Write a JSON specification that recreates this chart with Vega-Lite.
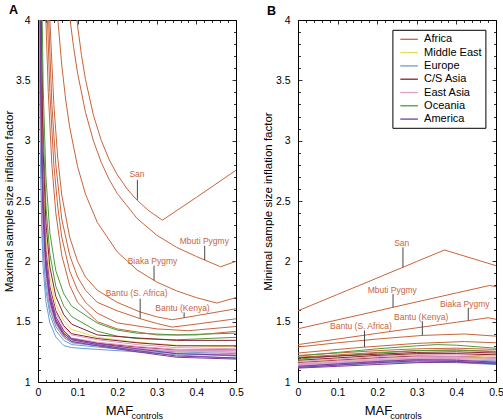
{
"$schema":"https://vega.github.io/schema/vega-lite/v6.json",
"padding":{"left":2,"top":3,"right":0,"bottom":0},
"config":{"view":{"stroke":"black","strokeWidth":1},"font":"Liberation Sans","axis":{"grid":false,"domain":false,"labelFont":"Liberation Sans","labelFontSize":10.5,"labelColor":"black","tickColor":"black","tickWidth":0.8,"titleFont":"Liberation Sans","titleFontWeight":"normal","titleColor":"black","labelFlush":false,"labelOverlap":false},"concat":{"spacing":17}},
"datasets":{
"a":[
{"p":"San","r":"Africa","x":0.09,"y":4.276},{"p":"San","r":"Africa","x":0.1,"y":3.95},{"p":"San","r":"Africa","x":0.11,"y":3.705},{"p":"San","r":"Africa","x":0.12,"y":3.506},{"p":"San","r":"Africa","x":0.14,"y":3.21},{"p":"San","r":"Africa","x":0.16,"y":3.0},{"p":"San","r":"Africa","x":0.18,"y":2.841},{"p":"San","r":"Africa","x":0.2,"y":2.719},{"p":"San","r":"Africa","x":0.225,"y":2.6},{"p":"San","r":"Africa","x":0.25,"y":2.507},{"p":"San","r":"Africa","x":0.28,"y":2.419},{"p":"San","r":"Africa","x":0.314,"y":2.341},{"p":"San","r":"Africa","x":0.4,"y":2.53},{"p":"San","r":"Africa","x":0.5,"y":2.755},
{"p":"Mbuti","r":"Africa","x":0.075,"y":4.189},{"p":"Mbuti","r":"Africa","x":0.082,"y":3.977},{"p":"Mbuti","r":"Africa","x":0.09,"y":3.772},{"p":"Mbuti","r":"Africa","x":0.1,"y":3.559},{"p":"Mbuti","r":"Africa","x":0.12,"y":3.234},{"p":"Mbuti","r":"Africa","x":0.14,"y":2.998},{"p":"Mbuti","r":"Africa","x":0.16,"y":2.818},{"p":"Mbuti","r":"Africa","x":0.18,"y":2.677},{"p":"Mbuti","r":"Africa","x":0.2,"y":2.563},{"p":"Mbuti","r":"Africa","x":0.25,"y":2.356},{"p":"Mbuti","r":"Africa","x":0.3,"y":2.216},{"p":"Mbuti","r":"Africa","x":0.35,"y":2.116},{"p":"Mbuti","r":"Africa","x":0.4,"y":2.04},{"p":"Mbuti","r":"Africa","x":0.461,"y":1.955},{"p":"Mbuti","r":"Africa","x":0.5,"y":2.0},
{"p":"Biaka","r":"Africa","x":0.045,"y":4.256},{"p":"Biaka","r":"Africa","x":0.05,"y":4.01},{"p":"Biaka","r":"Africa","x":0.06,"y":3.626},{"p":"Biaka","r":"Africa","x":0.07,"y":3.337},{"p":"Biaka","r":"Africa","x":0.08,"y":3.112},{"p":"Biaka","r":"Africa","x":0.1,"y":2.784},{"p":"Biaka","r":"Africa","x":0.12,"y":2.556},{"p":"Biaka","r":"Africa","x":0.15,"y":2.321},{"p":"Biaka","r":"Africa","x":0.2,"y":2.079},{"p":"Biaka","r":"Africa","x":0.25,"y":1.929},{"p":"Biaka","r":"Africa","x":0.3,"y":1.828},{"p":"Biaka","r":"Africa","x":0.35,"y":1.755},{"p":"Biaka","r":"Africa","x":0.4,"y":1.699},{"p":"Biaka","r":"Africa","x":0.452,"y":1.654},{"p":"Biaka","r":"Africa","x":0.5,"y":1.7},
{"p":"BantuK","r":"Africa","x":0.025,"y":4.5},{"p":"BantuK","r":"Africa","x":0.03,"y":4.0},{"p":"BantuK","r":"Africa","x":0.04,"y":3.3},{"p":"BantuK","r":"Africa","x":0.05,"y":2.85},{"p":"BantuK","r":"Africa","x":0.06,"y":2.55},{"p":"BantuK","r":"Africa","x":0.08,"y":2.2},{"p":"BantuK","r":"Africa","x":0.1,"y":2.0},{"p":"BantuK","r":"Africa","x":0.12,"y":1.87},{"p":"BantuK","r":"Africa","x":0.15,"y":1.76},{"p":"BantuK","r":"Africa","x":0.2,"y":1.66},{"p":"BantuK","r":"Africa","x":0.258,"y":1.58},{"p":"BantuK","r":"Africa","x":0.3,"y":1.54},{"p":"BantuK","r":"Africa","x":0.339,"y":1.516},{"p":"BantuK","r":"Africa","x":0.4,"y":1.55},{"p":"BantuK","r":"Africa","x":0.5,"y":1.607},
{"p":"BantuS","r":"Africa","x":0.022,"y":4.5},{"p":"BantuS","r":"Africa","x":0.027,"y":4.0},{"p":"BantuS","r":"Africa","x":0.035,"y":3.3},{"p":"BantuS","r":"Africa","x":0.045,"y":2.8},{"p":"BantuS","r":"Africa","x":0.06,"y":2.35},{"p":"BantuS","r":"Africa","x":0.08,"y":2.05},{"p":"BantuS","r":"Africa","x":0.1,"y":1.87},{"p":"BantuS","r":"Africa","x":0.12,"y":1.76},{"p":"BantuS","r":"Africa","x":0.15,"y":1.66},{"p":"BantuS","r":"Africa","x":0.2,"y":1.59},{"p":"BantuS","r":"Africa","x":0.258,"y":1.525},{"p":"BantuS","r":"Africa","x":0.3,"y":1.485},{"p":"BantuS","r":"Africa","x":0.339,"y":1.455},{"p":"BantuS","r":"Africa","x":0.4,"y":1.48},{"p":"BantuS","r":"Africa","x":0.5,"y":1.524},
{"p":"Yoruba","r":"Africa","x":0.02,"y":4.5},{"p":"Yoruba","r":"Africa","x":0.024,"y":4.0},{"p":"Yoruba","r":"Africa","x":0.03,"y":3.4},{"p":"Yoruba","r":"Africa","x":0.04,"y":2.8},{"p":"Yoruba","r":"Africa","x":0.05,"y":2.45},{"p":"Yoruba","r":"Africa","x":0.06,"y":2.2},{"p":"Yoruba","r":"Africa","x":0.08,"y":1.92},{"p":"Yoruba","r":"Africa","x":0.1,"y":1.76},{"p":"Yoruba","r":"Africa","x":0.12,"y":1.66},{"p":"Yoruba","r":"Africa","x":0.15,"y":1.57},{"p":"Yoruba","r":"Africa","x":0.2,"y":1.49},{"p":"Yoruba","r":"Africa","x":0.3,"y":1.44},{"p":"Yoruba","r":"Africa","x":0.38,"y":1.425},{"p":"Yoruba","r":"Africa","x":0.5,"y":1.46},
{"p":"Mandenka","r":"Africa","x":0.016,"y":4.5},{"p":"Mandenka","r":"Africa","x":0.02,"y":4.0},{"p":"Mandenka","r":"Africa","x":0.026,"y":3.4},{"p":"Mandenka","r":"Africa","x":0.035,"y":2.8},{"p":"Mandenka","r":"Africa","x":0.045,"y":2.4},{"p":"Mandenka","r":"Africa","x":0.06,"y":2.05},{"p":"Mandenka","r":"Africa","x":0.08,"y":1.8},{"p":"Mandenka","r":"Africa","x":0.1,"y":1.66},{"p":"Mandenka","r":"Africa","x":0.15,"y":1.5},{"p":"Mandenka","r":"Africa","x":0.2,"y":1.44},{"p":"Mandenka","r":"Africa","x":0.3,"y":1.39},{"p":"Mandenka","r":"Africa","x":0.4,"y":1.39},{"p":"Mandenka","r":"Africa","x":0.5,"y":1.42},
{"p":"G1","r":"Oceania","x":0.004,"y":8.3},{"p":"G1","r":"Oceania","x":0.006,"y":5.967},{"p":"G1","r":"Oceania","x":0.009,"y":4.411},{"p":"G1","r":"Oceania","x":0.013,"y":3.454},{"p":"G1","r":"Oceania","x":0.02,"y":2.7},{"p":"G1","r":"Oceania","x":0.03,"y":2.233},{"p":"G1","r":"Oceania","x":0.045,"y":1.922},{"p":"G1","r":"Oceania","x":0.065,"y":1.731},{"p":"G1","r":"Oceania","x":0.085,"y":1.629},{"p":"G1","r":"Oceania","x":0.15,"y":1.487},{"p":"G1","r":"Oceania","x":0.2,"y":1.43},{"p":"G1","r":"Oceania","x":0.25,"y":1.405},{"p":"G1","r":"Oceania","x":0.35,"y":1.39},{"p":"G1","r":"Oceania","x":0.5,"y":1.405},
{"p":"G2","r":"Oceania","x":0.004,"y":7.26},{"p":"G2","r":"Oceania","x":0.006,"y":5.26},{"p":"G2","r":"Oceania","x":0.009,"y":3.927},{"p":"G2","r":"Oceania","x":0.013,"y":3.106},{"p":"G2","r":"Oceania","x":0.02,"y":2.46},{"p":"G2","r":"Oceania","x":0.03,"y":2.06},{"p":"G2","r":"Oceania","x":0.045,"y":1.793},{"p":"G2","r":"Oceania","x":0.065,"y":1.629},{"p":"G2","r":"Oceania","x":0.085,"y":1.542},{"p":"G2","r":"Oceania","x":0.15,"y":1.42},{"p":"G2","r":"Oceania","x":0.2,"y":1.38},{"p":"G2","r":"Oceania","x":0.25,"y":1.36},{"p":"G2","r":"Oceania","x":0.35,"y":1.35},{"p":"G2","r":"Oceania","x":0.5,"y":1.37},
{"p":"M1","r":"Middle East","x":0.004,"y":6.2},{"p":"M1","r":"Middle East","x":0.006,"y":4.533},{"p":"M1","r":"Middle East","x":0.009,"y":3.422},{"p":"M1","r":"Middle East","x":0.013,"y":2.738},{"p":"M1","r":"Middle East","x":0.02,"y":2.2},{"p":"M1","r":"Middle East","x":0.03,"y":1.867},{"p":"M1","r":"Middle East","x":0.045,"y":1.644},{"p":"M1","r":"Middle East","x":0.065,"y":1.508},{"p":"M1","r":"Middle East","x":0.085,"y":1.435},{"p":"M1","r":"Middle East","x":0.15,"y":1.37},{"p":"M1","r":"Middle East","x":0.25,"y":1.33},{"p":"M1","r":"Middle East","x":0.35,"y":1.305},{"p":"M1","r":"Middle East","x":0.5,"y":1.29},
{"p":"M2","r":"Middle East","x":0.004,"y":5.17},{"p":"M2","r":"Middle East","x":0.006,"y":3.837},{"p":"M2","r":"Middle East","x":0.009,"y":2.948},{"p":"M2","r":"Middle East","x":0.013,"y":2.401},{"p":"M2","r":"Middle East","x":0.02,"y":1.97},{"p":"M2","r":"Middle East","x":0.03,"y":1.703},{"p":"M2","r":"Middle East","x":0.045,"y":1.526},{"p":"M2","r":"Middle East","x":0.065,"y":1.416},{"p":"M2","r":"Middle East","x":0.085,"y":1.36},{"p":"M2","r":"Middle East","x":0.15,"y":1.325},{"p":"M2","r":"Middle East","x":0.25,"y":1.29},{"p":"M2","r":"Middle East","x":0.35,"y":1.27},{"p":"M2","r":"Middle East","x":0.5,"y":1.265},
{"p":"M3","r":"Middle East","x":0.004,"y":4.535},{"p":"M3","r":"Middle East","x":0.006,"y":3.41},{"p":"M3","r":"Middle East","x":0.009,"y":2.66},{"p":"M3","r":"Middle East","x":0.013,"y":2.198},{"p":"M3","r":"Middle East","x":0.02,"y":1.835},{"p":"M3","r":"Middle East","x":0.03,"y":1.61},{"p":"M3","r":"Middle East","x":0.045,"y":1.46},{"p":"M3","r":"Middle East","x":0.065,"y":1.368},{"p":"M3","r":"Middle East","x":0.085,"y":1.33},{"p":"M3","r":"Middle East","x":0.15,"y":1.3},{"p":"M3","r":"Middle East","x":0.25,"y":1.265},{"p":"M3","r":"Middle East","x":0.35,"y":1.24},{"p":"M3","r":"Middle East","x":0.5,"y":1.23},
{"p":"C3","r":"C/S Asia","x":0.004,"y":6.72},{"p":"C3","r":"C/S Asia","x":0.006,"y":4.887},{"p":"C3","r":"C/S Asia","x":0.009,"y":3.664},{"p":"C3","r":"C/S Asia","x":0.013,"y":2.912},{"p":"C3","r":"C/S Asia","x":0.02,"y":2.32},{"p":"C3","r":"C/S Asia","x":0.03,"y":1.953},{"p":"C3","r":"C/S Asia","x":0.045,"y":1.709},{"p":"C3","r":"C/S Asia","x":0.065,"y":1.558},{"p":"C3","r":"C/S Asia","x":0.085,"y":1.479},{"p":"C3","r":"C/S Asia","x":0.15,"y":1.39},{"p":"C3","r":"C/S Asia","x":0.25,"y":1.365},{"p":"C3","r":"C/S Asia","x":0.35,"y":1.345},{"p":"C3","r":"C/S Asia","x":0.5,"y":1.345},
{"p":"C2","r":"C/S Asia","x":0.004,"y":5.69},{"p":"C2","r":"C/S Asia","x":0.006,"y":4.19},{"p":"C2","r":"C/S Asia","x":0.009,"y":3.19},{"p":"C2","r":"C/S Asia","x":0.013,"y":2.575},{"p":"C2","r":"C/S Asia","x":0.02,"y":2.09},{"p":"C2","r":"C/S Asia","x":0.03,"y":1.79},{"p":"C2","r":"C/S Asia","x":0.045,"y":1.59},{"p":"C2","r":"C/S Asia","x":0.065,"y":1.467},{"p":"C2","r":"C/S Asia","x":0.085,"y":1.4},{"p":"C2","r":"C/S Asia","x":0.15,"y":1.36},{"p":"C2","r":"C/S Asia","x":0.25,"y":1.325},{"p":"C2","r":"C/S Asia","x":0.35,"y":1.3},{"p":"C2","r":"C/S Asia","x":0.5,"y":1.3},
{"p":"C1","r":"C/S Asia","x":0.004,"y":4.92},{"p":"C1","r":"C/S Asia","x":0.006,"y":3.67},{"p":"C1","r":"C/S Asia","x":0.009,"y":2.837},{"p":"C1","r":"C/S Asia","x":0.013,"y":2.324},{"p":"C1","r":"C/S Asia","x":0.02,"y":1.92},{"p":"C1","r":"C/S Asia","x":0.03,"y":1.67},{"p":"C1","r":"C/S Asia","x":0.045,"y":1.503},{"p":"C1","r":"C/S Asia","x":0.065,"y":1.401},{"p":"C1","r":"C/S Asia","x":0.085,"y":1.355},{"p":"C1","r":"C/S Asia","x":0.15,"y":1.32},{"p":"C1","r":"C/S Asia","x":0.25,"y":1.29},{"p":"C1","r":"C/S Asia","x":0.35,"y":1.265},{"p":"C1","r":"C/S Asia","x":0.5,"y":1.265},
{"p":"E3","r":"Europe","x":0.004,"y":4.42},{"p":"E3","r":"Europe","x":0.006,"y":3.337},{"p":"E3","r":"Europe","x":0.009,"y":2.614},{"p":"E3","r":"Europe","x":0.013,"y":2.17},{"p":"E3","r":"Europe","x":0.02,"y":1.82},{"p":"E3","r":"Europe","x":0.03,"y":1.603},{"p":"E3","r":"Europe","x":0.045,"y":1.459},{"p":"E3","r":"Europe","x":0.065,"y":1.37},{"p":"E3","r":"Europe","x":0.085,"y":1.325},{"p":"E3","r":"Europe","x":0.15,"y":1.3},{"p":"E3","r":"Europe","x":0.25,"y":1.27},{"p":"E3","r":"Europe","x":0.35,"y":1.25},{"p":"E3","r":"Europe","x":0.5,"y":1.235},
{"p":"E2","r":"Europe","x":0.004,"y":4.16},{"p":"E2","r":"Europe","x":0.006,"y":3.16},{"p":"E2","r":"Europe","x":0.009,"y":2.493},{"p":"E2","r":"Europe","x":0.013,"y":2.083},{"p":"E2","r":"Europe","x":0.02,"y":1.76},{"p":"E2","r":"Europe","x":0.03,"y":1.56},{"p":"E2","r":"Europe","x":0.045,"y":1.427},{"p":"E2","r":"Europe","x":0.065,"y":1.345},{"p":"E2","r":"Europe","x":0.085,"y":1.31},{"p":"E2","r":"Europe","x":0.15,"y":1.29},{"p":"E2","r":"Europe","x":0.25,"y":1.26},{"p":"E2","r":"Europe","x":0.35,"y":1.235},{"p":"E2","r":"Europe","x":0.5,"y":1.215},
{"p":"E1","r":"Europe","x":0.004,"y":3.765},{"p":"E1","r":"Europe","x":0.006,"y":2.89},{"p":"E1","r":"Europe","x":0.009,"y":2.307},{"p":"E1","r":"Europe","x":0.013,"y":1.948},{"p":"E1","r":"Europe","x":0.02,"y":1.665},{"p":"E1","r":"Europe","x":0.03,"y":1.49},{"p":"E1","r":"Europe","x":0.045,"y":1.373},{"p":"E1","r":"Europe","x":0.065,"y":1.302},{"p":"E1","r":"Europe","x":0.085,"y":1.285},{"p":"E1","r":"Europe","x":0.15,"y":1.27},{"p":"E1","r":"Europe","x":0.25,"y":1.25},{"p":"E1","r":"Europe","x":0.35,"y":1.225},{"p":"E1","r":"Europe","x":0.5,"y":1.195},
{"p":"K5","r":"East Asia","x":0.004,"y":5.44},{"p":"K5","r":"East Asia","x":0.006,"y":4.023},{"p":"K5","r":"East Asia","x":0.009,"y":3.079},{"p":"K5","r":"East Asia","x":0.013,"y":2.498},{"p":"K5","r":"East Asia","x":0.02,"y":2.04},{"p":"K5","r":"East Asia","x":0.03,"y":1.757},{"p":"K5","r":"East Asia","x":0.045,"y":1.568},{"p":"K5","r":"East Asia","x":0.065,"y":1.452},{"p":"K5","r":"East Asia","x":0.085,"y":1.39},{"p":"K5","r":"East Asia","x":0.15,"y":1.35},{"p":"K5","r":"East Asia","x":0.25,"y":1.31},{"p":"K5","r":"East Asia","x":0.35,"y":1.285},{"p":"K5","r":"East Asia","x":0.5,"y":1.275},
{"p":"K3","r":"East Asia","x":0.004,"y":5.18},{"p":"K3","r":"East Asia","x":0.006,"y":3.847},{"p":"K3","r":"East Asia","x":0.009,"y":2.958},{"p":"K3","r":"East Asia","x":0.013,"y":2.411},{"p":"K3","r":"East Asia","x":0.02,"y":1.98},{"p":"K3","r":"East Asia","x":0.03,"y":1.713},{"p":"K3","r":"East Asia","x":0.045,"y":1.536},{"p":"K3","r":"East Asia","x":0.065,"y":1.426},{"p":"K3","r":"East Asia","x":0.085,"y":1.365},{"p":"K3","r":"East Asia","x":0.15,"y":1.33},{"p":"K3","r":"East Asia","x":0.25,"y":1.295},{"p":"K3","r":"East Asia","x":0.35,"y":1.27},{"p":"K3","r":"East Asia","x":0.5,"y":1.26},
{"p":"K2","r":"East Asia","x":0.004,"y":5.045},{"p":"K2","r":"East Asia","x":0.006,"y":3.753},{"p":"K2","r":"East Asia","x":0.009,"y":2.892},{"p":"K2","r":"East Asia","x":0.013,"y":2.362},{"p":"K2","r":"East Asia","x":0.02,"y":1.945},{"p":"K2","r":"East Asia","x":0.03,"y":1.687},{"p":"K2","r":"East Asia","x":0.045,"y":1.514},{"p":"K2","r":"East Asia","x":0.065,"y":1.409},{"p":"K2","r":"East Asia","x":0.085,"y":1.35},{"p":"K2","r":"East Asia","x":0.15,"y":1.315},{"p":"K2","r":"East Asia","x":0.25,"y":1.28},{"p":"K2","r":"East Asia","x":0.35,"y":1.255},{"p":"K2","r":"East Asia","x":0.5,"y":1.245},
{"p":"K4","r":"East Asia","x":0.004,"y":4.67},{"p":"K4","r":"East Asia","x":0.006,"y":3.503},{"p":"K4","r":"East Asia","x":0.009,"y":2.726},{"p":"K4","r":"East Asia","x":0.013,"y":2.247},{"p":"K4","r":"East Asia","x":0.02,"y":1.87},{"p":"K4","r":"East Asia","x":0.03,"y":1.637},{"p":"K4","r":"East Asia","x":0.045,"y":1.481},{"p":"K4","r":"East Asia","x":0.065,"y":1.385},{"p":"K4","r":"East Asia","x":0.085,"y":1.34},{"p":"K4","r":"East Asia","x":0.15,"y":1.31},{"p":"K4","r":"East Asia","x":0.25,"y":1.28},{"p":"K4","r":"East Asia","x":0.35,"y":1.26},{"p":"K4","r":"East Asia","x":0.5,"y":1.25},
{"p":"K1","r":"East Asia","x":0.004,"y":4.785},{"p":"K1","r":"East Asia","x":0.006,"y":3.577},{"p":"K1","r":"East Asia","x":0.009,"y":2.771},{"p":"K1","r":"East Asia","x":0.013,"y":2.275},{"p":"K1","r":"East Asia","x":0.02,"y":1.885},{"p":"K1","r":"East Asia","x":0.03,"y":1.643},{"p":"K1","r":"East Asia","x":0.045,"y":1.482},{"p":"K1","r":"East Asia","x":0.065,"y":1.383},{"p":"K1","r":"East Asia","x":0.085,"y":1.34},{"p":"K1","r":"East Asia","x":0.15,"y":1.305},{"p":"K1","r":"East Asia","x":0.25,"y":1.27},{"p":"K1","r":"East Asia","x":0.35,"y":1.24},{"p":"K1","r":"East Asia","x":0.5,"y":1.225},
{"p":"P3","r":"America","x":0.004,"y":5.46},{"p":"P3","r":"America","x":0.006,"y":4.027},{"p":"P3","r":"America","x":0.009,"y":3.071},{"p":"P3","r":"America","x":0.013,"y":2.483},{"p":"P3","r":"America","x":0.02,"y":2.02},{"p":"P3","r":"America","x":0.03,"y":1.733},{"p":"P3","r":"America","x":0.045,"y":1.542},{"p":"P3","r":"America","x":0.065,"y":1.425},{"p":"P3","r":"America","x":0.085,"y":1.36},{"p":"P3","r":"America","x":0.15,"y":1.32},{"p":"P3","r":"America","x":0.25,"y":1.275},{"p":"P3","r":"America","x":0.35,"y":1.235},{"p":"P3","r":"America","x":0.5,"y":1.22},
{"p":"P2","r":"America","x":0.004,"y":5.275},{"p":"P2","r":"America","x":0.006,"y":3.9},{"p":"P2","r":"America","x":0.009,"y":2.983},{"p":"P2","r":"America","x":0.013,"y":2.419},{"p":"P2","r":"America","x":0.02,"y":1.975},{"p":"P2","r":"America","x":0.03,"y":1.7},{"p":"P2","r":"America","x":0.045,"y":1.517},{"p":"P2","r":"America","x":0.065,"y":1.404},{"p":"P2","r":"America","x":0.085,"y":1.35},{"p":"P2","r":"America","x":0.15,"y":1.31},{"p":"P2","r":"America","x":0.25,"y":1.26},{"p":"P2","r":"America","x":0.35,"y":1.215},{"p":"P2","r":"America","x":0.5,"y":1.2},
{"p":"P1","r":"America","x":0.004,"y":5.095},{"p":"P1","r":"America","x":0.006,"y":3.778},{"p":"P1","r":"America","x":0.009,"y":2.901},{"p":"P1","r":"America","x":0.013,"y":2.36},{"p":"P1","r":"America","x":0.02,"y":1.935},{"p":"P1","r":"America","x":0.03,"y":1.672},{"p":"P1","r":"America","x":0.045,"y":1.496},{"p":"P1","r":"America","x":0.065,"y":1.388},{"p":"P1","r":"America","x":0.085,"y":1.335},{"p":"P1","r":"America","x":0.15,"y":1.3},{"p":"P1","r":"America","x":0.25,"y":1.25},{"p":"P1","r":"America","x":0.35,"y":1.205},{"p":"P1","r":"America","x":0.5,"y":1.19}
],
"b":[
{"p":"San","r":"Africa","x":0,"y":1.59},{"p":"San","r":"Africa","x":0.1,"y":1.726},{"p":"San","r":"Africa","x":0.2,"y":1.862},{"p":"San","r":"Africa","x":0.3,"y":1.999},{"p":"San","r":"Africa","x":0.37,"y":2.094},{"p":"San","r":"Africa","x":0.5,"y":1.964},
{"p":"Mbuti","r":"Africa","x":0,"y":1.441},{"p":"Mbuti","r":"Africa","x":0.1,"y":1.515},{"p":"Mbuti","r":"Africa","x":0.2,"y":1.589},{"p":"Mbuti","r":"Africa","x":0.3,"y":1.664},{"p":"Mbuti","r":"Africa","x":0.4,"y":1.738},{"p":"Mbuti","r":"Africa","x":0.484,"y":1.8},{"p":"Mbuti","r":"Africa","x":0.5,"y":1.79},
{"p":"Biaka","r":"Africa","x":0,"y":1.31},{"p":"Biaka","r":"Africa","x":0.1,"y":1.356},{"p":"Biaka","r":"Africa","x":0.2,"y":1.403},{"p":"Biaka","r":"Africa","x":0.3,"y":1.449},{"p":"Biaka","r":"Africa","x":0.4,"y":1.495},{"p":"Biaka","r":"Africa","x":0.48,"y":1.532},{"p":"Biaka","r":"Africa","x":0.5,"y":1.52},
{"p":"BantuK","r":"Africa","x":0,"y":1.29},{"p":"BantuK","r":"Africa","x":0.1,"y":1.325},{"p":"BantuK","r":"Africa","x":0.2,"y":1.356},{"p":"BantuK","r":"Africa","x":0.314,"y":1.386},{"p":"BantuK","r":"Africa","x":0.42,"y":1.398},{"p":"BantuK","r":"Africa","x":0.5,"y":1.38},
{"p":"BantuS","r":"Africa","x":0,"y":1.24},{"p":"BantuS","r":"Africa","x":0.1,"y":1.27},{"p":"BantuS","r":"Africa","x":0.168,"y":1.289},{"p":"BantuS","r":"Africa","x":0.3,"y":1.32},{"p":"BantuS","r":"Africa","x":0.42,"y":1.335},{"p":"BantuS","r":"Africa","x":0.5,"y":1.325},
{"p":"Yoruba","r":"Africa","x":0,"y":1.22},{"p":"Yoruba","r":"Africa","x":0.1,"y":1.24},{"p":"Yoruba","r":"Africa","x":0.2,"y":1.26},{"p":"Yoruba","r":"Africa","x":0.3,"y":1.275},{"p":"Yoruba","r":"Africa","x":0.4,"y":1.28},{"p":"Yoruba","r":"Africa","x":0.5,"y":1.27},
{"p":"Mandenka","r":"Africa","x":0,"y":1.205},{"p":"Mandenka","r":"Africa","x":0.1,"y":1.225},{"p":"Mandenka","r":"Africa","x":0.2,"y":1.245},{"p":"Mandenka","r":"Africa","x":0.3,"y":1.26},{"p":"Mandenka","r":"Africa","x":0.4,"y":1.265},{"p":"Mandenka","r":"Africa","x":0.5,"y":1.255},
{"p":"G1","r":"Oceania","x":0,"y":1.215},{"p":"G1","r":"Oceania","x":0.1,"y":1.245},{"p":"G1","r":"Oceania","x":0.2,"y":1.275},{"p":"G1","r":"Oceania","x":0.3,"y":1.3},{"p":"G1","r":"Oceania","x":0.35,"y":1.31},{"p":"G1","r":"Oceania","x":0.4,"y":1.305},{"p":"G1","r":"Oceania","x":0.5,"y":1.28},
{"p":"G2","r":"Oceania","x":0,"y":1.19},{"p":"G2","r":"Oceania","x":0.1,"y":1.215},{"p":"G2","r":"Oceania","x":0.2,"y":1.24},{"p":"G2","r":"Oceania","x":0.3,"y":1.26},{"p":"G2","r":"Oceania","x":0.4,"y":1.265},{"p":"G2","r":"Oceania","x":0.5,"y":1.25},
{"p":"M1","r":"Middle East","x":0,"y":1.175},{"p":"M1","r":"Middle East","x":0.1,"y":1.195},{"p":"M1","r":"Middle East","x":0.2,"y":1.215},{"p":"M1","r":"Middle East","x":0.3,"y":1.23},{"p":"M1","r":"Middle East","x":0.4,"y":1.235},{"p":"M1","r":"Middle East","x":0.5,"y":1.23},
{"p":"M2","r":"Middle East","x":0,"y":1.165},{"p":"M2","r":"Middle East","x":0.1,"y":1.185},{"p":"M2","r":"Middle East","x":0.2,"y":1.2},{"p":"M2","r":"Middle East","x":0.3,"y":1.215},{"p":"M2","r":"Middle East","x":0.4,"y":1.215},{"p":"M2","r":"Middle East","x":0.5,"y":1.205},
{"p":"M3","r":"Middle East","x":0,"y":1.15},{"p":"M3","r":"Middle East","x":0.1,"y":1.17},{"p":"M3","r":"Middle East","x":0.2,"y":1.185},{"p":"M3","r":"Middle East","x":0.3,"y":1.2},{"p":"M3","r":"Middle East","x":0.4,"y":1.2},{"p":"M3","r":"Middle East","x":0.5,"y":1.19},
{"p":"C3","r":"C/S Asia","x":0,"y":1.2},{"p":"C3","r":"C/S Asia","x":0.1,"y":1.215},{"p":"C3","r":"C/S Asia","x":0.2,"y":1.23},{"p":"C3","r":"C/S Asia","x":0.3,"y":1.245},{"p":"C3","r":"C/S Asia","x":0.4,"y":1.25},{"p":"C3","r":"C/S Asia","x":0.5,"y":1.24},
{"p":"C2","r":"C/S Asia","x":0,"y":1.18},{"p":"C2","r":"C/S Asia","x":0.1,"y":1.2},{"p":"C2","r":"C/S Asia","x":0.2,"y":1.22},{"p":"C2","r":"C/S Asia","x":0.3,"y":1.235},{"p":"C2","r":"C/S Asia","x":0.4,"y":1.235},{"p":"C2","r":"C/S Asia","x":0.5,"y":1.225},
{"p":"C1","r":"C/S Asia","x":0,"y":1.16},{"p":"C1","r":"C/S Asia","x":0.1,"y":1.18},{"p":"C1","r":"C/S Asia","x":0.2,"y":1.2},{"p":"C1","r":"C/S Asia","x":0.3,"y":1.215},{"p":"C1","r":"C/S Asia","x":0.4,"y":1.21},{"p":"C1","r":"C/S Asia","x":0.5,"y":1.2},
{"p":"E3","r":"Europe","x":0,"y":1.145},{"p":"E3","r":"Europe","x":0.1,"y":1.16},{"p":"E3","r":"Europe","x":0.2,"y":1.175},{"p":"E3","r":"Europe","x":0.3,"y":1.19},{"p":"E3","r":"Europe","x":0.4,"y":1.185},{"p":"E3","r":"Europe","x":0.5,"y":1.175},
{"p":"E2","r":"Europe","x":0,"y":1.135},{"p":"E2","r":"Europe","x":0.1,"y":1.15},{"p":"E2","r":"Europe","x":0.2,"y":1.165},{"p":"E2","r":"Europe","x":0.3,"y":1.175},{"p":"E2","r":"Europe","x":0.4,"y":1.17},{"p":"E2","r":"Europe","x":0.5,"y":1.16},
{"p":"E1","r":"Europe","x":0,"y":1.125},{"p":"E1","r":"Europe","x":0.1,"y":1.14},{"p":"E1","r":"Europe","x":0.2,"y":1.155},{"p":"E1","r":"Europe","x":0.3,"y":1.165},{"p":"E1","r":"Europe","x":0.4,"y":1.16},{"p":"E1","r":"Europe","x":0.5,"y":1.145},
{"p":"K5","r":"East Asia","x":0,"y":1.17},{"p":"K5","r":"East Asia","x":0.1,"y":1.19},{"p":"K5","r":"East Asia","x":0.2,"y":1.21},{"p":"K5","r":"East Asia","x":0.3,"y":1.225},{"p":"K5","r":"East Asia","x":0.4,"y":1.225},{"p":"K5","r":"East Asia","x":0.5,"y":1.215},
{"p":"K3","r":"East Asia","x":0,"y":1.155},{"p":"K3","r":"East Asia","x":0.1,"y":1.175},{"p":"K3","r":"East Asia","x":0.2,"y":1.195},{"p":"K3","r":"East Asia","x":0.3,"y":1.21},{"p":"K3","r":"East Asia","x":0.4,"y":1.21},{"p":"K3","r":"East Asia","x":0.5,"y":1.2},
{"p":"K4","r":"East Asia","x":0,"y":1.145},{"p":"K4","r":"East Asia","x":0.1,"y":1.165},{"p":"K4","r":"East Asia","x":0.2,"y":1.185},{"p":"K4","r":"East Asia","x":0.3,"y":1.2},{"p":"K4","r":"East Asia","x":0.4,"y":1.205},{"p":"K4","r":"East Asia","x":0.5,"y":1.195},
{"p":"K2","r":"East Asia","x":0,"y":1.14},{"p":"K2","r":"East Asia","x":0.1,"y":1.16},{"p":"K2","r":"East Asia","x":0.2,"y":1.18},{"p":"K2","r":"East Asia","x":0.3,"y":1.195},{"p":"K2","r":"East Asia","x":0.4,"y":1.195},{"p":"K2","r":"East Asia","x":0.5,"y":1.185},
{"p":"K1","r":"East Asia","x":0,"y":1.13},{"p":"K1","r":"East Asia","x":0.1,"y":1.15},{"p":"K1","r":"East Asia","x":0.2,"y":1.165},{"p":"K1","r":"East Asia","x":0.3,"y":1.18},{"p":"K1","r":"East Asia","x":0.4,"y":1.18},{"p":"K1","r":"East Asia","x":0.5,"y":1.17},
{"p":"P3","r":"America","x":0,"y":1.13},{"p":"P3","r":"America","x":0.1,"y":1.15},{"p":"P3","r":"America","x":0.2,"y":1.17},{"p":"P3","r":"America","x":0.3,"y":1.185},{"p":"P3","r":"America","x":0.4,"y":1.18},{"p":"P3","r":"America","x":0.5,"y":1.165},
{"p":"P2","r":"America","x":0,"y":1.12},{"p":"P2","r":"America","x":0.1,"y":1.14},{"p":"P2","r":"America","x":0.2,"y":1.16},{"p":"P2","r":"America","x":0.3,"y":1.175},{"p":"P2","r":"America","x":0.4,"y":1.17},{"p":"P2","r":"America","x":0.5,"y":1.155},
{"p":"P1","r":"America","x":0,"y":1.115},{"p":"P1","r":"America","x":0.1,"y":1.13},{"p":"P1","r":"America","x":0.2,"y":1.145},{"p":"P1","r":"America","x":0.3,"y":1.16},{"p":"P1","r":"America","x":0.4,"y":1.165},{"p":"P1","r":"America","x":0.5,"y":1.15}
],
"la":[{"x":0.25,"y":2.727,"t":"San"},{"x":0.42,"y":2.171,"t":"Mbuti Pygmy"},{"x":0.289,"y":2.0,"t":"Biaka Pygmy"},{"x":0.249,"y":1.736,"t":"Bantu (S. Africa)"},{"x":0.365,"y":1.615,"t":"Bantu (Kenya)"}],
"pa":[{"x":0.251,"y":2.675,"y2":2.51},{"x":0.421,"y":2.13,"y2":2.011},{"x":0.293,"y":1.964,"y2":1.842},{"x":0.258,"y":1.69,"y2":1.525},{"x":0.369,"y":1.576,"y2":1.533}],
"lb":[{"x":0.262,"y":2.152,"t":"San"},{"x":0.238,"y":1.764,"t":"Mbuti Pygmy"},{"x":0.421,"y":1.648,"t":"Biaka Pygmy"},{"x":0.311,"y":1.537,"t":"Bantu (Kenya)"},{"x":0.159,"y":1.46,"t":"Bantu (S. Africa)"}],
"pb":[{"x":0.265,"y":2.116,"y2":1.951},{"x":0.24,"y":1.73,"y2":1.619},{"x":0.43,"y":1.615,"y2":1.509},{"x":0.314,"y":1.504,"y2":1.386},{"x":0.168,"y":1.427,"y2":1.289}],
"sa":[{"x":0.276,"y":0.72,"t":"controls"}],
"sb":[{"x":0.273,"y":0.72,"t":"controls"}]
},
"resolve":{"scale":{"color":"independent"},"legend":{"color":"independent"}},
"hconcat":[
{"width":198,"height":362,
"title":{"text":"A","anchor":"start","dx":-29,"fontSize":12.5,"fontWeight":"bold","offset":-11.5,"baseline":"alphabetic","font":"Liberation Sans","color":"black","frame":"group"},
"resolve":{"axis":{"x":"independent","y":"independent"}},
"layer":[
{"data":{"name":"a"},"mark":{"type":"line","clip":true,"strokeWidth":1},
"encoding":{
"x":{"field":"x","type":"quantitative","scale":{"domain":[0,0.5],"nice":false,"zero":false},"axis":{"orient":"bottom","values":[0,0.02,0.04,0.06,0.08,0.1,0.12,0.14,0.16,0.18,0.2,0.22,0.24,0.26,0.28,0.3,0.32,0.34,0.36,0.38,0.4,0.42,0.44,0.46,0.48,0.5],"labelExpr":"abs(datum.value*10-round(datum.value*10))<0.000001 ? format(datum.value,'~g') : ''","tickSize":{"condition":{"test":"abs(datum.value*10-round(datum.value*10))<0.000001","value":-4},"value":-2.5},"labelPadding":9,"title":"MAF","titleFontSize":13,"titleX":81,"titleY":32,"titleBaseline":"alphabetic"}},
"y":{"field":"y","type":"quantitative","scale":{"domain":[1,4],"nice":false,"zero":false},"axis":{"orient":"left","values":[1,1.1,1.2,1.3,1.4,1.5,1.6,1.7,1.8,1.9,2,2.1,2.2,2.3,2.4,2.5,2.6,2.7,2.8,2.9,3,3.1,3.2,3.3,3.4,3.5,3.6,3.7,3.8,3.9,4],"labelExpr":"abs(datum.value*2-round(datum.value*2))<0.000001 ? format(datum.value,'~g') : ''","tickSize":{"condition":{"test":"abs(datum.value*2-round(datum.value*2))<0.000001","value":-4},"value":-2.5},"labelPadding":12,"title":"Maximal sample size inflation factor","titleFontSize":11.5,"titleX":-29,"titleY":181,"titleBaseline":"middle","titleAngle":-90}},
"color":{"field":"r","type":"nominal","scale":{"domain":["Africa","Middle East","Europe","C/S Asia","East Asia","Oceania","America"],"range":["#c9643b","#e5dc55","#6c9bd6","#8c1f2f","#dd9fcf","#4e9b3b","#7a3d9c"]},"legend":null},
"detail":{"field":"p"}}},
{"data":{"name":"pa"},"mark":{"type":"rule","color":"#333333","strokeWidth":0.9},
"encoding":{
"x":{"field":"x","type":"quantitative","scale":{"domain":[0,0.5],"nice":false,"zero":false},"axis":null},
"y":{"field":"y","type":"quantitative","scale":{"domain":[1,4],"nice":false,"zero":false},"axis":null},
"y2":{"field":"y2"}}},
{"data":{"name":"la"},"mark":{"type":"text","fontSize":8.5,"color":"#c9643b","font":"Liberation Sans","baseline":"middle"},
"encoding":{
"x":{"field":"x","type":"quantitative","scale":{"domain":[0,0.5],"nice":false,"zero":false},"axis":{"orient":"top","values":[0,0.02,0.04,0.06,0.08,0.1,0.12,0.14,0.16,0.18,0.2,0.22,0.24,0.26,0.28,0.3,0.32,0.34,0.36,0.38,0.4,0.42,0.44,0.46,0.48,0.5],"labels":false,"tickSize":{"condition":{"test":"abs(datum.value*10-round(datum.value*10))<0.000001","value":-4},"value":-2.5},"title":null}},
"y":{"field":"y","type":"quantitative","scale":{"domain":[1,4],"nice":false,"zero":false},"axis":{"orient":"right","values":[1,1.1,1.2,1.3,1.4,1.5,1.6,1.7,1.8,1.9,2,2.1,2.2,2.3,2.4,2.5,2.6,2.7,2.8,2.9,3,3.1,3.2,3.3,3.4,3.5,3.6,3.7,3.8,3.9,4],"labels":false,"tickSize":{"condition":{"test":"abs(datum.value*2-round(datum.value*2))<0.000001","value":-4},"value":-2.5},"title":null}},
"text":{"field":"t"}}},
{"data":{"name":"sa"},"mark":{"type":"text","fontSize":9,"color":"black","font":"Liberation Sans","baseline":"middle"},
"encoding":{
"x":{"field":"x","type":"quantitative","scale":{"domain":[0,0.5],"nice":false,"zero":false},"axis":null},
"y":{"field":"y","type":"quantitative","scale":{"domain":[1,4],"nice":false,"zero":false},"axis":null},
"text":{"field":"t"}}}
]},
{"width":198,"height":362,
"title":{"text":"B","anchor":"start","dx":-31,"fontSize":12.5,"fontWeight":"bold","offset":-12,"baseline":"alphabetic","font":"Liberation Sans","color":"black","frame":"group"},
"resolve":{"axis":{"x":"independent","y":"independent"}},
"layer":[
{"data":{"name":"b"},"mark":{"type":"line","clip":true,"strokeWidth":1},
"encoding":{
"x":{"field":"x","type":"quantitative","scale":{"domain":[0,0.5],"nice":false,"zero":false},"axis":{"orient":"bottom","values":[0,0.02,0.04,0.06,0.08,0.1,0.12,0.14,0.16,0.18,0.2,0.22,0.24,0.26,0.28,0.3,0.32,0.34,0.36,0.38,0.4,0.42,0.44,0.46,0.48,0.5],"labelExpr":"abs(datum.value*10-round(datum.value*10))<0.000001 ? format(datum.value,'~g') : ''","tickSize":{"condition":{"test":"abs(datum.value*10-round(datum.value*10))<0.000001","value":-4},"value":-2.5},"labelPadding":9,"title":"MAF","titleFontSize":13,"titleX":80,"titleY":32,"titleBaseline":"alphabetic"}},
"y":{"field":"y","type":"quantitative","scale":{"domain":[1,4],"nice":false,"zero":false},"axis":{"orient":"left","values":[1,1.1,1.2,1.3,1.4,1.5,1.6,1.7,1.8,1.9,2,2.1,2.2,2.3,2.4,2.5,2.6,2.7,2.8,2.9,3,3.1,3.2,3.3,3.4,3.5,3.6,3.7,3.8,3.9,4],"labelExpr":"abs(datum.value*2-round(datum.value*2))<0.000001 ? format(datum.value,'~g') : ''","tickSize":{"condition":{"test":"abs(datum.value*2-round(datum.value*2))<0.000001","value":-4},"value":-2.5},"labelPadding":12,"title":"Minimal sample size inflation factor","titleFontSize":11.5,"titleX":-30,"titleY":181,"titleBaseline":"middle","titleAngle":-90}},
"color":{"field":"r","type":"nominal","scale":{"domain":["Africa","Middle East","Europe","C/S Asia","East Asia","Oceania","America"],"range":["#c9643b","#e5dc55","#6c9bd6","#8c1f2f","#dd9fcf","#4e9b3b","#7a3d9c"]},"legend":{"orient":"none","legendX":94.4,"legendY":9.8,"title":null,"symbolType":"M-1.6,0H1.6","symbolSize":121,"symbolOffset":7.2,"symbolStrokeWidth":1.3,"labelOffset":8.5,"labelFontSize":11,"labelFont":"Liberation Sans","labelColor":"black","padding":3,"rowPadding":1.3,"strokeColor":"black","fillColor":"white"}},
"detail":{"field":"p"}}},
{"data":{"name":"pb"},"mark":{"type":"rule","color":"#333333","strokeWidth":0.9},
"encoding":{
"x":{"field":"x","type":"quantitative","scale":{"domain":[0,0.5],"nice":false,"zero":false},"axis":null},
"y":{"field":"y","type":"quantitative","scale":{"domain":[1,4],"nice":false,"zero":false},"axis":null},
"y2":{"field":"y2"}}},
{"data":{"name":"lb"},"mark":{"type":"text","fontSize":8.5,"color":"#c9643b","font":"Liberation Sans","baseline":"middle"},
"encoding":{
"x":{"field":"x","type":"quantitative","scale":{"domain":[0,0.5],"nice":false,"zero":false},"axis":{"orient":"top","values":[0,0.02,0.04,0.06,0.08,0.1,0.12,0.14,0.16,0.18,0.2,0.22,0.24,0.26,0.28,0.3,0.32,0.34,0.36,0.38,0.4,0.42,0.44,0.46,0.48,0.5],"labels":false,"tickSize":{"condition":{"test":"abs(datum.value*10-round(datum.value*10))<0.000001","value":-4},"value":-2.5},"title":null}},
"y":{"field":"y","type":"quantitative","scale":{"domain":[1,4],"nice":false,"zero":false},"axis":{"orient":"right","values":[1,1.1,1.2,1.3,1.4,1.5,1.6,1.7,1.8,1.9,2,2.1,2.2,2.3,2.4,2.5,2.6,2.7,2.8,2.9,3,3.1,3.2,3.3,3.4,3.5,3.6,3.7,3.8,3.9,4],"labels":false,"tickSize":{"condition":{"test":"abs(datum.value*2-round(datum.value*2))<0.000001","value":-4},"value":-2.5},"title":null}},
"text":{"field":"t"}}},
{"data":{"name":"sb"},"mark":{"type":"text","fontSize":9,"color":"black","font":"Liberation Sans","baseline":"middle"},
"encoding":{
"x":{"field":"x","type":"quantitative","scale":{"domain":[0,0.5],"nice":false,"zero":false},"axis":null},
"y":{"field":"y","type":"quantitative","scale":{"domain":[1,4],"nice":false,"zero":false},"axis":null},
"text":{"field":"t"}}}
]}
]
}
